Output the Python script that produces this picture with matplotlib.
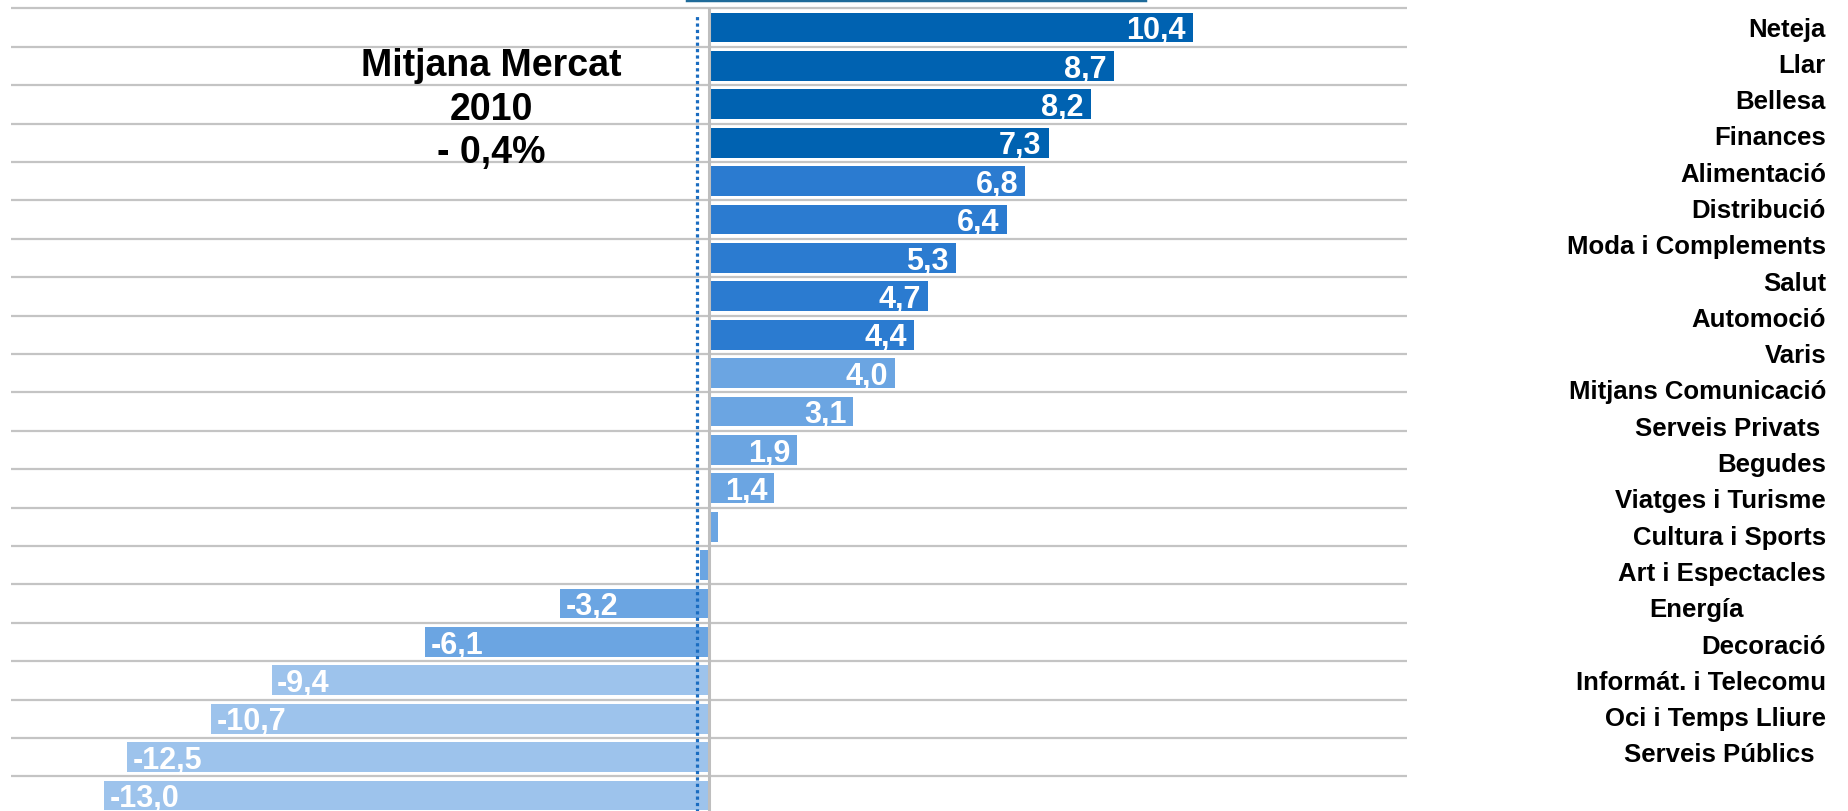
import matplotlib.pyplot as plt
from matplotlib import font_manager
from matplotlib.lines import Line2D

# sectors, top to bottom
categories = [
    "Neteja", "Llar", "Bellesa", "Finances", "Alimentació", "Distribució",
    "Moda i Complements", "Salut", "Automoció", "Varis", "Mitjans Comunicació",
    "Serveis Privats", "Begudes", "Viatges i Turisme", "Cultura i Sports",
    "Art i Espectacles", "Energía", "Decoració", "Informát. i Telecomu",
    "Oci i Temps Lliure", "Serveis Públics",
]
values = [10.4, 8.7, 8.2, 7.3, 6.8, 6.4, 5.3, 4.7, 4.4, 4.0, 3.1, 1.9, 1.4,
          0.2, -0.2, -3.2, -6.1, -9.4, -10.7, -12.5, -13.0]
market_text = ["Mitjana Mercat", "2010", "- 0,4%"]
market_line = -0.25

W, H = 1849, 812
DARK, MID, LIGHT, PALE = "#0062B1", "#2B7BD0", "#6BA5E2", "#9DC3EC"
bar_colors = [DARK] * 4 + [MID] * 5 + [LIGHT] * 8 + [PALE] * 4

installed = {f.name for f in font_manager.fontManager.ttflist}
narrow = "Liberation Sans Narrow" if "Liberation Sans Narrow" in installed else "Liberation Sans"
plt.rcParams["font.family"] = ["Liberation Sans", "DejaVu Sans"]

fig = plt.figure(figsize=(W / 100, H / 100), dpi=100)
# plot area in pixels: x 11..1407, y 9.3..815.7
ax = fig.add_axes([11 / W, 1 - 815.7 / H, (1407 - 11) / W, (815.7 - 9.3) / H])

n = len(values)
ax.barh(range(n), values, height=0.78, color=bar_colors, zorder=2)
ax.set_xlim(-15, 15)
ax.set_ylim(n - 0.5, -0.5)

# row separators
ax.hlines([i - 0.5 for i in range(n + 1)], -15, 15, color="#C4C4C4",
          linewidth=1.6, zorder=1, clip_on=False)
ax.axvline(0, color="#BEBEBE", linewidth=2.2, zorder=3)
ax.axvline(market_line, ymax=0.99, color="#1A6CC0", linewidth=2.3,
           linestyle=(0, (1, 1)), zorder=4)

for i, v in enumerate(values):
    if abs(v) < 1:
        continue
    label = f"{v:.1f}".replace(".", ",")
    if v > 0:
        ax.annotate(label, (v, i), xytext=(-5, -2), textcoords="offset points",
                    ha="right", va="center", color="white", fontsize=22,
                    fontweight="bold", family=narrow, zorder=5)
    else:
        ax.annotate(label, (v, i), xytext=(4, -2), textcoords="offset points",
                    ha="left", va="center", color="white", fontsize=22,
                    fontweight="bold", family=narrow, zorder=5)

ax.axis("off")

# sector names, right column
label_right = {"Serveis Privats": 1820, "Energía": 1744, "Serveis Públics": 1815}
for i, name in enumerate(categories):
    y = 29.5 + 36.3 * i
    x = label_right.get(name, 1826)
    fig.text(x / W, 1 - y / H, name, ha="right", va="center",
             fontsize=18.5, fontweight="bold", color="black")

# market average note
for k, line in enumerate(market_text):
    y = 66 + 43.5 * k
    fig.text(491 / W, 1 - y / H, line, ha="center", va="center",
             fontsize=27, fontweight="bold", color="black")

# leftover border at the top edge
fig.add_artist(Line2D([687 / W, 1145 / W], [1 - 1 / H, 1 - 1 / H],
                      color="#1F6B9A", linewidth=2.5))

fig.savefig("out.png", dpi=100)
